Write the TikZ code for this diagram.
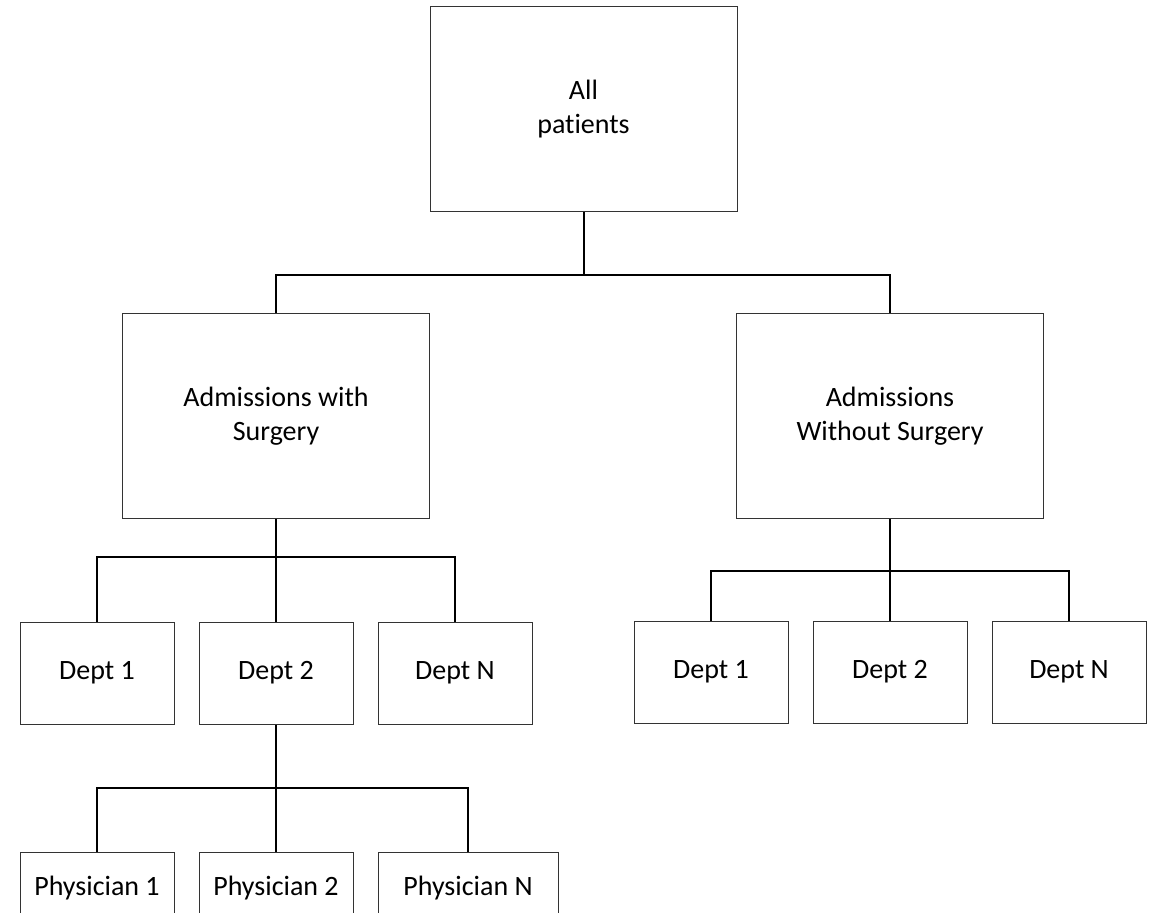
\documentclass[tikz,border=0pt]{standalone}
\usepackage{fontspec}
\setmainfont[Ligatures=NoCommon]{Carlito}
\usepackage{tikz}
\usetikzlibrary{positioning}

\begin{document}
\begin{tikzpicture}
                        [x=0.5pt, y=-0.5pt,
                         every node/.style={draw=black!80, line width=0.5pt, fill=white,
                                            inner sep=0pt, align=center,
                                            font=\fontsize{14}{17}\selectfont},
                         bigbox/.style={minimum width=153.5pt, minimum height=102.5pt},
                         deptbox/.style={minimum width=77pt, minimum height=51pt},
                         docbox/.style={minimum width=77pt, minimum height=36pt},
                         link/.style={draw, line width=1pt}]

                        \useasboundingbox (0,0) rectangle (1149,913);
                        \clip (0,0) rectangle (1149,913);

                        % Top level
                        \node[bigbox] (root) at (583.5,109.5) {All\\patients};

                        % Second level
                        \node[bigbox] (surg) at (276,416.5) {Admissions with\\Surgery};
                        \node[bigbox] (nosurg) at (890,416.5) {Admissions\\Without Surgery};

                        % Departments
                        \node[deptbox] (sdept1) at (97,673) {Dept 1};
                        \node[deptbox] (sdept2) at (276,673) {Dept 2};
                        \node[deptbox] (sdeptN) at (455,673) {Dept N};
                        \node[deptbox] (ndept1) at (711,672) {Dept 1};
                        \node[deptbox] (ndept2) at (890,672) {Dept 2};
                        \node[deptbox] (ndeptN) at (1069,672) {Dept N};

                        % Physicians
                        \node[docbox] (doc1) at (97,888) {Physician 1};
                        \node[docbox] (doc2) at (276,888) {Physician 2};
                        \node[docbox, minimum width=90pt] (docN) at (468,888) {Physician N};

                        % Connectors
                        \path[link] (root.south) -- ++(0,63) coordinate (rootbus);
                        \path[link] (rootbus) -| (surg.north);
                        \path[link] (rootbus) -| (nosurg.north);

                        \path[link] (surg.south) -- (sdept2.north);
                        \path[link] (sdept1.north) |- (surg.south |- 0,557) -| (sdeptN.north);

                        \path[link] (nosurg.south) -- (ndept2.north);
                        \path[link] (ndept1.north) |- (nosurg.south |- 0,571) -| (ndeptN.north);

                        \path[link] (sdept2.south) -- (doc2.north);
                        \path[link] (doc1.north) |- (sdept2.south |- 0,788) -| (docN.north);
\end{tikzpicture}
\end{document}
